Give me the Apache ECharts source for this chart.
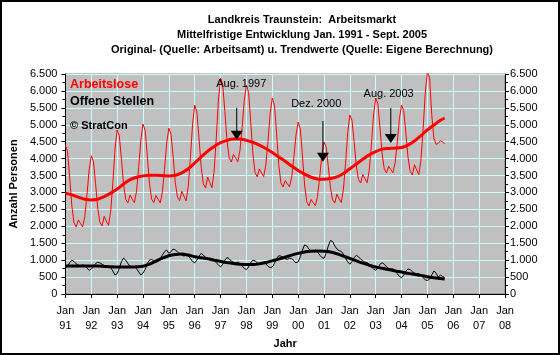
<!DOCTYPE html>
<html><head><meta charset="utf-8">
<script src="https://cdn.jsdelivr.net/npm/echarts@6/dist/echarts.min.js"></script>
<style>html,body{margin:0;padding:0;background:#fff}#c{width:560px;height:355px}</style>
</head><body><div id="c"></div>
<script>
// ---------- DATA ----------
const titleLines = [
  'Landkreis Traunstein:  Arbeitsmarkt',
  'Mittelfristige Entwicklung Jan. 1991 - Sept. 2005',
  'Original- (Quelle: Arbeitsamt) u. Trendwerte (Quelle: Eigene Berechnung)'
];
const yearLabels = ['91','92','93','94','95','96','97','98','99','00','01','02','03','04','05','06','07','08'];
// monthly values, Jan 1991 .. Sep 2005
const arbeitslose = [
  4400,4200,3430,2585,2100,1980,2190,2085,1980,2295,2930,3665,
  4085,3920,3255,2530,2115,2010,2295,2150,2030,2435,3285,4280,
  4845,4670,3985,3230,2800,2690,2925,2805,2700,3040,3740,4555,
  5020,4835,4090,3275,2805,2700,2910,2800,2690,3020,3685,4460,
  4900,4730,4040,3290,2860,2760,3035,2890,2750,3175,4025,5015,
  5580,5385,4600,3745,3255,3130,3455,3295,3140,3620,4595,5730,
  6380,6180,5390,4520,4025,3900,4125,4015,3910,4240,4920,5715,
  6170,5955,5085,4140,3595,3460,3695,3575,3470,3810,4510,5325,
  5790,5580,4740,3820,3290,3160,3350,3255,3170,3450,4025,4695,
  5080,4880,4090,3220,2725,2600,2790,2695,2610,2885,3450,4110,
  4490,4345,3770,3140,2780,2690,2950,2820,2700,3080,3860,4770,
  5290,5130,4485,3785,3380,3280,3530,3405,3290,3655,4410,5290,
  5790,5615,4905,4130,3685,3575,3775,3675,3585,3875,4475,5180,
  5580,5415,4755,4030,3620,3515,3820,3665,3525,3970,4880,5945,
  6550,6400,5300,4600,4420,4450,4530,4490,4440
];
const offeneStellen = [
  760,820,930,1000,960,890,850,830,860,840,760,700,
  740,800,900,940,920,880,840,800,820,780,680,560,
  600,760,960,1060,1000,900,820,780,800,760,650,560,
  620,720,900,1000,1020,980,940,960,1050,1150,1250,1300,
  1200,1250,1330,1300,1250,1180,1150,1120,1150,1120,1050,960,
  920,1000,1120,1200,1150,1080,1050,1020,1040,1000,920,860,
  800,880,1000,1080,1040,970,940,910,940,900,820,760,
  720,800,930,1000,980,920,900,880,910,890,820,780,
  800,900,1050,1130,1120,1060,1040,1020,1060,1050,980,920,
  950,1100,1300,1450,1420,1330,1280,1250,1300,1250,1150,1080,
  1050,1200,1420,1580,1550,1420,1330,1280,1260,1180,1050,950,
  880,960,1080,1140,1100,1030,980,940,930,880,800,740,
  700,760,880,920,880,800,760,740,740,700,600,520,
  480,560,680,740,720,660,620,600,600,560,480,420,
  400,440,560,680,620,500,560,520,480
];
// trend values (month index since Jan 1991)
const trendMonths = [0,3,6,9,12,15,18,21,24,27,30,33,36,39,42,45,48,51,54,57,60,63,66,69,72,75,78,81,84,87,
  90,93,96,99,102,105,108,111,114,117,120,123,126,129,132,135,138,141,144,147,150,153,156,159,162,165,168,171,174,176];
const trendArbeitslose = [2980,2930,2860,2800,2780,2800,2880,2980,3100,3250,
  3380,3450,3490,3510,3510,3500,3490,3510,3580,3700,
  3870,4050,4220,4360,4470,4540,4580,4580,4540,4480,
  4400,4300,4180,4050,3920,3780,3650,3540,3450,3400,
  3390,3410,3460,3560,3700,3840,3980,4110,4210,4280,
  4300,4310,4330,4400,4520,4680,4850,4990,5130,5200];
const trendOffene = [830,830,830,830,830,825,815,805,800,800,
  800,805,820,880,970,1060,1130,1170,1180,1150,
  1100,1070,1040,1000,960,930,900,880,870,870,
  890,930,980,1030,1090,1150,1200,1240,1260,1270,
  1265,1240,1190,1120,1050,980,910,850,800,760,
  720,680,650,610,580,550,510,480,455,445];
// annotations
const annoLabels = ['Aug. 1997','Dez. 2000','Aug. 2003'];
const annoMonths = [79.5,119.5,151];
const annoTextMonths = [81.6,116.4,150];
const annoTextValues = [6200,5610,5910];
const annoTopValues = [5500,5110,5500];
const annoTipValues = [4560,3910,4460];

// ---------- CHART ----------
const FONT = '"Liberation Sans", Arial, sans-serif';
const chart = echarts.init(document.getElementById('c'), null, {renderer:'canvas'});
function fmt(v){ return v>=1000 ? Math.floor(v/1000)+'.'+String(v%1000).padStart(3,'0') : String(v); }
const monthly = arr => arr.map((v,i)=>[i,v]);
const trend = arr => arr.map((v,i)=>[trendMonths[i],v]);
function yAxis(pos){
  return {
    type:'value', position:pos, min:0, max:6500, interval:500,
    axisLine:{show:true, lineStyle:{color:'#000', width:1}},
    axisTick:{show:true, length:4, lineStyle:{color:'#000'}},
    minorTick:{show:true, splitNumber:2, length:3, lineStyle:{color:'#000'}},
    splitLine:{show:pos==='left', lineStyle:{color:'#ccffff', width:1}},
    axisLabel:{formatter:fmt, fontFamily:FONT, fontSize:11, color:'#000', margin:pos==='left'?8:5},
    name: pos==='left' ? 'Anzahl Personen' : '',
    nameLocation:'middle', nameGap:44, nameRotate:90,
    nameTextStyle:{fontFamily:FONT, fontSize:11, fontWeight:'bold', color:'#000'}
  };
}
const option = {
  animation:false,
  backgroundColor:'#fff',
  title:{text:titleLines.join('\n'), left:297, textAlign:'center', top:7,
    textStyle:{fontFamily:FONT, fontSize:11, fontWeight:'bold', color:'#000', lineHeight:15}},
  grid:{left:65, right:55, top:74, bottom:61, show:true, backgroundColor:'#c0c0c0', borderColor:'#808080', borderWidth:1},
  xAxis:{type:'value', min:0, max:204, interval:12,
    name:'Jahr', nameLocation:'middle', nameGap:44,
    nameTextStyle:{fontFamily:FONT, fontSize:11, fontWeight:'bold', color:'#000'},
    axisLine:{show:true, onZero:false, lineStyle:{color:'#000'}},
    axisTick:{show:true, length:4, lineStyle:{color:'#000'}},
    axisLabel:{formatter:v=>'Jan\n'+yearLabels[Math.round(v/12)], fontFamily:FONT, fontSize:11, color:'#000', lineHeight:15, margin:9},
    splitLine:{show:true, lineStyle:{color:'#ccffff', width:1}}},
  yAxis:[yAxis('left'), yAxis('right')],
  series:[
    {name:'Arbeitslose', type:'line', data:monthly(arbeitslose), showSymbol:false, lineStyle:{color:'#ff0000', width:1}, itemStyle:{color:'#ff0000'}, z:3},
    {name:'Arbeitslose Trend', type:'line', data:trend(trendArbeitslose), smooth:0.3, showSymbol:false, lineStyle:{color:'#ff0000', width:3}, z:4},
    {name:'Offene Stellen', type:'line', data:monthly(offeneStellen), showSymbol:false, lineStyle:{color:'#000', width:1}, itemStyle:{color:'#000'}, z:3},
    {name:'Offene Stellen Trend', type:'line', data:trend(trendOffene), smooth:0.3, showSymbol:false, lineStyle:{color:'#000', width:3}, z:4}
  ]
};
chart.setOption(option);

const g = [
  {type:'rect', shape:{x:1, y:1, width:558, height:353}, style:{fill:null, stroke:'#000', lineWidth:2}, z:100},
  {type:'text', x:70, y:78, style:{text:'Arbeitslose', fill:'#ff0000', font:'bold 12.5px '+FONT}, z:50},
  {type:'text', x:70, y:95, style:{text:'Offene Stellen', fill:'#000', font:'bold 12.5px '+FONT}, z:50},
  {type:'text', x:70, y:120, style:{text:'\u00a9 StratCon', fill:'#000', font:'bold 11px '+FONT}, z:50}
];
annoLabels.forEach((lab,i)=>{
  const t = chart.convertToPixel({xAxisIndex:0,yAxisIndex:0},[annoTextMonths[i], annoTextValues[i]]);
  const top = chart.convertToPixel({xAxisIndex:0,yAxisIndex:0},[annoMonths[i], annoTopValues[i]]);
  const tip = chart.convertToPixel({xAxisIndex:0,yAxisIndex:0},[annoMonths[i], annoTipValues[i]]);
  g.push({type:'text', x:t[0], y:t[1], style:{text:lab, fill:'#000', font:'11px '+FONT, align:'center', verticalAlign:'middle'}, z:50});
  g.push({type:'line', shape:{x1:top[0], y1:top[1], x2:tip[0], y2:tip[1]-8}, style:{stroke:'#000', lineWidth:1}, z:50});
  g.push({type:'polygon', shape:{points:[[tip[0]-6,tip[1]-9],[tip[0]+6,tip[1]-9],[tip[0],tip[1]]]}, style:{fill:'#000'}, z:50});
});
chart.setOption({graphic:g});
</script>
</body></html>
